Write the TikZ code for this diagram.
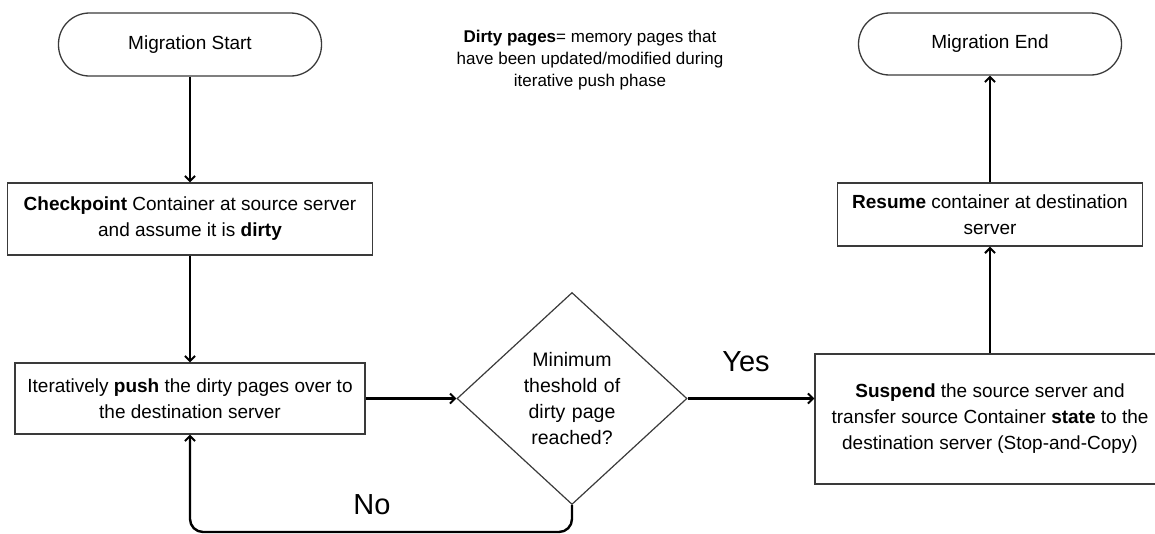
\documentclass[tikz,border=0pt]{standalone}
\usepackage{fontspec}
\setmainfont{Liberation Sans}
\usetikzlibrary{arrows.meta,shapes.geometric}
\definecolor{edge}{HTML}{3A3A3A}
\tikzset{
  box/.style={draw=edge, line width=1.3pt, rectangle, inner sep=0pt, align=center, font=\fontsize{19}{26}\selectfont},
  term/.style={box, rounded corners=31pt},
  decision/.style={draw=edge, line width=1.2pt, diamond, inner sep=0pt, minimum width=230pt, minimum height=212pt, text width=110pt, align=center, font=\fontsize{19.5}{26}\selectfont},
  flow/.style={line width=2.4pt, -{Straight Barb[length=5pt,width=10pt,line width=2pt]}},
  note/.style={align=center, font=\fontsize{17}{22}\selectfont},
  answer/.style={font=\fontsize{29}{32}\selectfont}
}
\begin{document}
\begin{tikzpicture}[x=1pt,y=-1pt]
\useasboundingbox (0,0) rectangle (1155,533);
\clip (0,0) rectangle (1155,533);
\node[term, minimum width=263pt, minimum height=63pt] (start) at (190,44.5) {Migration Start};
\node[term, minimum width=263pt, minimum height=62pt] (end) at (990,44) {Migration End};
\node[note] (notes) at (590,60) {\textbf{Dirty pages}= memory pages that\\have been updated/modified during\\iterative push phase};
\node[box, minimum width=365pt, minimum height=72pt] (check) at (190,219) {\textbf{Checkpoint} Container at source server\\and assume it is \textbf{dirty}};
\node[box, minimum width=350pt, minimum height=71pt] (push) at (190,398.5) {Iteratively \textbf{push} the dirty pages over to\\the destination server};
\node[decision] (dia) at (572,398.5) {Minimum\\theshold of\\dirty page\\reached?};
\node[box, minimum width=305pt, minimum height=63pt] (resume) at (990,214.5) {\textbf{Resume} container at destination\\server};
\node[box, minimum width=350pt, minimum height=130pt] (susp) at (990,419) {\textbf{Suspend} the source server and\\transfer source Container \textbf{state} to the\\destination server (Stop-and-Copy)};
\node[answer] (yes) at (746,362) {Yes};
\node[answer] (no) at (372,505) {No};
\coordinate (loopR) at (572,532);
\coordinate (loopL) at (190,532);
\draw[flow] (start) -- (check);
\draw[flow] (check) -- (push);
\draw[flow] (push.east) -- (dia.west);
\draw[flow] (dia.east) -- (dia.east -| susp.west);
\draw[flow] (susp) -- (resume);
\draw[flow] (resume) -- (end);
\draw[flow, rounded corners=13pt] (dia.south) -- (loopR) -- (loopL) -- (push.south);
\end{tikzpicture}
\end{document}
